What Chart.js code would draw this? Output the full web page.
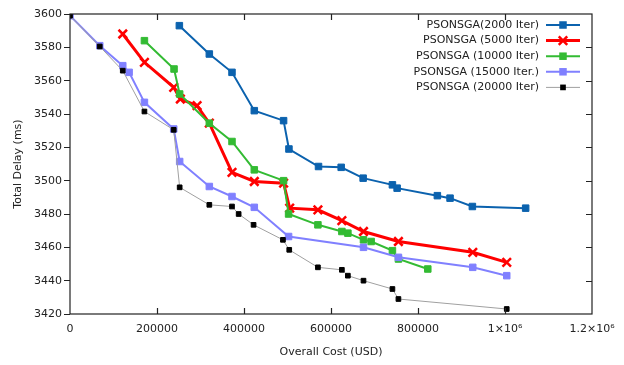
<!DOCTYPE html>
<html>
<head>
<meta charset="utf-8">
<script src="https://cdn.jsdelivr.net/npm/chart.js@4/dist/chart.umd.min.js"></script>
<style>
  html, body { margin: 0; padding: 0; background: #fff; }
  #wrap { width: 624px; height: 365px; }
</style>
</head>
<body>
<div id="wrap"><canvas id="delayChart"></canvas></div>
<script>
// values
const seriesNames = ['PSONSGA(2000 Iter)', 'PSONSGA (5000 Iter)', 'PSONSGA (10000 Iter)', 'PSONSGA (15000 Iter.)', 'PSONSGA (20000 Iter)'];

const blueX = [251400, 320300, 372400, 423700, 491000, 503300, 571300, 623400, 673900, 741200, 752000, 844500, 873700, 925000, 1047500];
const blueY = [3593, 3576, 3565, 3542, 3536, 3519, 3508.5, 3508, 3501.5, 3497.5, 3495.5, 3491, 3489.5, 3484.5, 3483.5];

const redX = [121300, 171100, 238400, 253700, 292100, 320300, 372400, 423700, 491000, 505000, 569900, 625000, 674700, 755000, 925900, 1004000];
const redY = [3588, 3571, 3556, 3549, 3545, 3534.5, 3505, 3499.5, 3498.5, 3483.5, 3482.5, 3476, 3469.5, 3463.5, 3457, 3451];

const greenX = [171100, 239200, 252100, 320300, 372400, 423700, 491000, 502500, 569900, 625000, 638800, 674700, 692300, 741200, 755000, 822500];
const greenY = [3584, 3567, 3552, 3534.5, 3523.5, 3506.5, 3500, 3480, 3473.5, 3469.5, 3468.5, 3464.5, 3463.5, 3458, 3453, 3447];

const lavX = [0, 68400, 121300, 135900, 171100, 238400, 252100, 320300, 372400, 423700, 502500, 674700, 755000, 925900, 1004000];
const lavY = [3599, 3581, 3569, 3565, 3547, 3531, 3511.5, 3496.5, 3490.5, 3484, 3466.5, 3460, 3454, 3448, 3443];

const blackX = [0, 68400, 121300, 171100, 238400, 252100, 320300, 372400, 387700, 422000, 489500, 504000, 569900, 625000, 638800, 674700, 741200, 755000, 1004000];
const blackY = [3599, 3580.5, 3566, 3541.5, 3530.5, 3496, 3485.5, 3484.5, 3480, 3473.5, 3464.5, 3458.5, 3448, 3446.5, 3443, 3440, 3435, 3429, 3423];

const xTicks = [0, 200000, 400000, 600000, 800000, 1000000, 1200000];
const xTickLabels = ['0', '200000', '400000', '600000', '800000', '1×10⁶', '1.2×10⁶'];
const yTicks = [3420, 3440, 3460, 3480, 3500, 3520, 3540, 3560, 3580, 3600];

function pairs(xs, ys) {
    return xs.map((x, i) => ({ x: x, y: ys[i] }));
}

const FONT = "'DejaVu Sans', Verdana, sans-serif";

// ticks pointing inward on bottom / top / right, like the original
const frameTicks = {
    id: 'frameTicks',
    afterDraw(chart) {
        const ctx = chart.ctx;
        const a = chart.chartArea;
        const xs = chart.scales.x, ys = chart.scales.y;
        ctx.save();
        ctx.strokeStyle = '#222';
        ctx.lineWidth = 1.2;
        ctx.strokeRect(a.left, a.top, a.right - a.left, a.bottom - a.top);
        ctx.beginPath();
        xTicks.forEach(v => {
            const px = Math.round(xs.getPixelForValue(v)) + 0.5;
            if (v > 0 && v < 1200000) {
                ctx.moveTo(px, a.bottom); ctx.lineTo(px, a.bottom - 6);
                ctx.moveTo(px, a.top); ctx.lineTo(px, a.top + 6);
            }
        });
        yTicks.forEach(v => {
            const py = Math.round(ys.getPixelForValue(v)) + 0.5;
            if (v > 3420 && v < 3600) {
                ctx.moveTo(a.right, py); ctx.lineTo(a.right - 6, py);
            }
        });
        ctx.stroke();
        ctx.restore();
    }
};

// legend drawn gnuplot-style: text right-aligned, sample line on the right
const sideLegend = {
    id: 'sideLegend',
    afterDraw(chart) {
        const ctx = chart.ctx;
        ctx.save();
        ctx.font = '11px ' + FONT;
        ctx.textAlign = 'right';
        ctx.textBaseline = 'middle';
        chart.data.datasets.forEach((ds, i) => {
            const y = 25 + i * 15.6;
            ctx.fillStyle = '#222';
            ctx.fillText(ds.label, 539, y);
            ctx.strokeStyle = ds.borderColor;
            ctx.lineWidth = ds.borderWidth;
            ctx.beginPath();
            ctx.moveTo(546, y); ctx.lineTo(580, y);
            ctx.stroke();
            const cx = 563;
            if (ds.pointStyle === 'crossRot') {
                const r = ds.pointRadius * Math.SQRT1_2;
                ctx.strokeStyle = ds.pointBorderColor;
                ctx.lineWidth = ds.pointBorderWidth;
                ctx.beginPath();
                ctx.moveTo(cx - r, y - r); ctx.lineTo(cx + r, y + r);
                ctx.moveTo(cx - r, y + r); ctx.lineTo(cx + r, y - r);
                ctx.stroke();
            } else {
                const s = ds.pointRadius * Math.SQRT1_2 + ds.pointBorderWidth / 2;
                ctx.fillStyle = ds.pointBackgroundColor;
                ctx.fillRect(cx - s, y - s, 2 * s, 2 * s);
            }
        });
        ctx.restore();
    }
};

function makeSet(label, xs, ys, line, lineW, marker, style, radius, order) {
    return {
        label: label,
        data: pairs(xs, ys),
        borderColor: line,
        borderWidth: lineW,
        pointStyle: style,
        pointRadius: radius,
        pointBackgroundColor: marker,
        pointBorderColor: marker,
        pointBorderWidth: style === 'crossRot' ? 2.5 : 1,
        showLine: true,
        tension: 0,
        order: order
    };
}

new Chart(document.getElementById('delayChart').getContext('2d'), {
    type: 'scatter',
    data: {
        datasets: [
            makeSet(seriesNames[0], blueX, blueY, '#0b62ae', 2, '#0b62ae', 'rect', 4.6, 5),
            makeSet(seriesNames[1], redX, redY, '#ff0000', 3, '#ff0000', 'crossRot', 6, 4),
            makeSet(seriesNames[2], greenX, greenY, '#33bb33', 2, '#33bb33', 'rect', 4.6, 3),
            makeSet(seriesNames[3], lavX, lavY, '#8080ff', 2, '#8080ff', 'rect', 4.6, 2),
            makeSet(seriesNames[4], blackX, blackY, '#a0a0a0', 1, '#000000', 'rect', 3.3, 1)
        ]
    },
    options: {
        responsive: true,
        maintainAspectRatio: false,
        animation: false,
        layout: { padding: { top: 14, right: 32, left: 12, bottom: 0 } },
        plugins: {
            legend: { display: false },
            tooltip: { enabled: false }
        },
        scales: {
            x: {
                type: 'linear',
                min: 0,
                max: 1200000,
                afterBuildTicks: (s) => { s.ticks = xTicks.map(v => ({ value: v })); },
                afterFit: (s) => { s.height = 51; },
                grid: { display: false, drawTicks: false },
                border: { display: false },
                ticks: {
                    color: '#222',
                    font: { family: FONT, size: 11 },
                    padding: 9,
                    maxRotation: 0,
                    autoSkip: false,
                    callback: (v) => xTickLabels[xTicks.indexOf(v)]
                },
                title: {
                    display: true,
                    text: 'Overall Cost (USD)',
                    color: '#222',
                    font: { family: FONT, size: 11 },
                    padding: { top: 0, bottom: 6 }
                }
            },
            y: {
                type: 'linear',
                min: 3420,
                max: 3600,
                afterBuildTicks: (s) => { s.ticks = yTicks.map(v => ({ value: v })); },
                afterFit: (s) => { s.width = 58; },
                grid: { drawOnChartArea: false, drawTicks: true, tickLength: 6, color: '#222' },
                border: { display: false },
                ticks: {
                    color: '#222',
                    font: { family: FONT, size: 11 },
                    padding: 2,
                    callback: (v) => String(v)
                },
                title: {
                    display: true,
                    text: 'Total Delay (ms)',
                    color: '#222',
                    font: { family: FONT, size: 11 },
                    padding: { top: 0, bottom: 0 }
                }
            }
        }
    },
    plugins: [frameTicks, sideLegend]
});
</script>
</body>
</html>
